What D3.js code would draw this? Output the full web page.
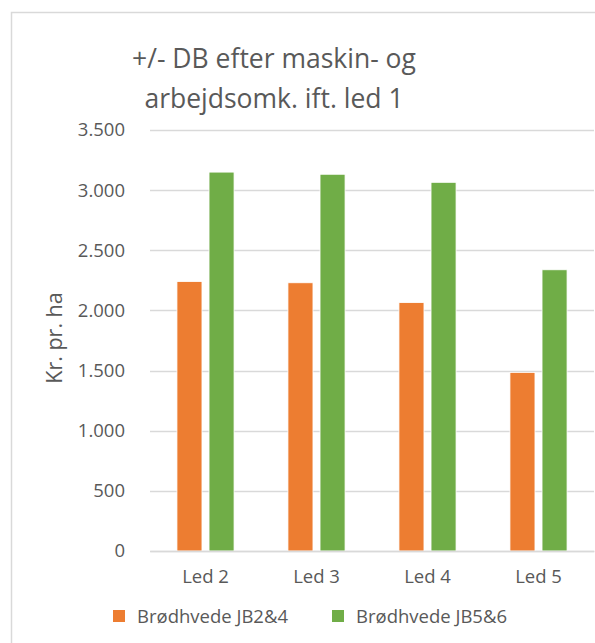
<!DOCTYPE html>
<html>
<head>
<meta charset="utf-8">
<script src="https://cdn.jsdelivr.net/npm/d3@7"></script>
<style>
  body { margin: 0; background: #fff; }
  text { font-family: "Open Sans", "Noto Sans", sans-serif; fill: #595959; }
</style>
</head>
<body>
<div id="chart"></div>
<script>
var categories = ["Led 2", "Led 3", "Led 4", "Led 5"];
var seriesNames = ["Brødhvede JB2&4", "Brødhvede JB5&6"];
var jb24 = [2240, 2230, 2065, 1485];
var jb56 = [3150, 3132, 3065, 2338];
var yTicks = [0, 500, 1000, 1500, 2000, 2500, 3000, 3500];
var colors = ["#ed7d31", "#70ad47"];

var W = 595, H = 643;
var margin = { top: 130, right: 1, bottom: 92, left: 150 },
  width = W - margin.left - margin.right,
  height = H - margin.top - margin.bottom;

var svg = d3.select("#chart").append("svg")
  .attr("width", W)
  .attr("height", H);

// chart frame
svg.append("rect")
  .attr("x", 11.5).attr("y", 12.5)
  .attr("width", W + 20).attr("height", H + 20)
  .attr("fill", "none")
  .attr("stroke", "#d9d9d9")
  .attr("stroke-width", 1.5);

// title
var title = svg.append("text")
  .attr("text-anchor", "middle")
  .style("font-size", "26.5px");
title.append("tspan").attr("x", 274).attr("y", 68).text("+/- DB efter maskin- og");
title.append("tspan").attr("x", 274).attr("y", 108).text("arbejdsomk. ift. led 1");

var g = svg.append("g")
  .attr("transform", "translate(" + margin.left + "," + margin.top + ")");

var y = d3.scaleLinear().domain([0, 3500]).range([height, 0]);
var x = d3.scaleBand().domain(categories).range([0, width]);
var xs = d3.scaleBand().domain(seriesNames).range([0, x.bandwidth()])
  .paddingInner(0.22).paddingOuter(0.84);

// gridlines
g.selectAll(".grid")
  .data(yTicks)
  .enter().append("line")
  .attr("x1", 0).attr("x2", width)
  .attr("y1", function (d) { return Math.round(y(d)) + 0.5; })
  .attr("y2", function (d) { return Math.round(y(d)) + 0.5; })
  .attr("stroke", "#d9d9d9")
  .attr("stroke-width", 1.3);

// y axis labels
var fmt = function (d) { return d3.format(",")(d).replace(/,/g, "."); };
var yAxis = g.append("g")
  .call(d3.axisLeft(y).tickValues(yTicks).tickFormat(fmt).tickSize(0).tickPadding(25));
yAxis.select(".domain").remove();
yAxis.selectAll("text").style("font-size", "18.5px").attr("fill", "#595959");

// bars
var data = categories.map(function (c, i) {
  return { cat: c, vals: [jb24[i], jb56[i]] };
});
var groups = g.selectAll(".cat")
  .data(data)
  .enter().append("g")
  .attr("transform", function (d) { return "translate(" + x(d.cat) + ",0)"; });
groups.selectAll("rect")
  .data(function (d) { return d.vals.map(function (v, j) { return { name: seriesNames[j], v: v, j: j }; }); })
  .enter().append("rect")
  .attr("x", function (d) { return xs(d.name); })
  .attr("y", function (d) { return y(d.v); })
  .attr("width", xs.bandwidth())
  .attr("height", function (d) { return height - y(d.v); })
  .attr("fill", function (d) { return colors[d.j]; })
  .attr("stroke", "#fff")
  .attr("stroke-width", 0.8);

// x axis
var xAxis = g.append("g")
  .attr("transform", "translate(0," + height + ")")
  .call(d3.axisBottom(x).tickSize(0).tickPadding(19));
xAxis.select(".domain").attr("stroke", "#d9d9d9").attr("stroke-width", 1.3);
xAxis.selectAll("text").style("font-size", "18.5px").attr("fill", "#595959");

// y axis title
svg.append("text")
  .attr("transform", "translate(62,338) rotate(-90)")
  .attr("text-anchor", "middle")
  .style("font-size", "21.5px")
  .text("Kr. pr. ha");

// legend
var legendX = [113, 332];
var legend = svg.selectAll(".legend")
  .data(seriesNames)
  .enter().append("g")
  .attr("transform", function (d, i) { return "translate(" + legendX[i] + ",610)"; });
legend.append("rect")
  .attr("width", 12).attr("height", 12)
  .attr("fill", function (d, i) { return colors[i]; });
legend.append("text")
  .attr("x", 24).attr("y", 12.5)
  .style("font-size", "18.5px")
  .text(function (d) { return d; });
</script>
</body>
</html>
